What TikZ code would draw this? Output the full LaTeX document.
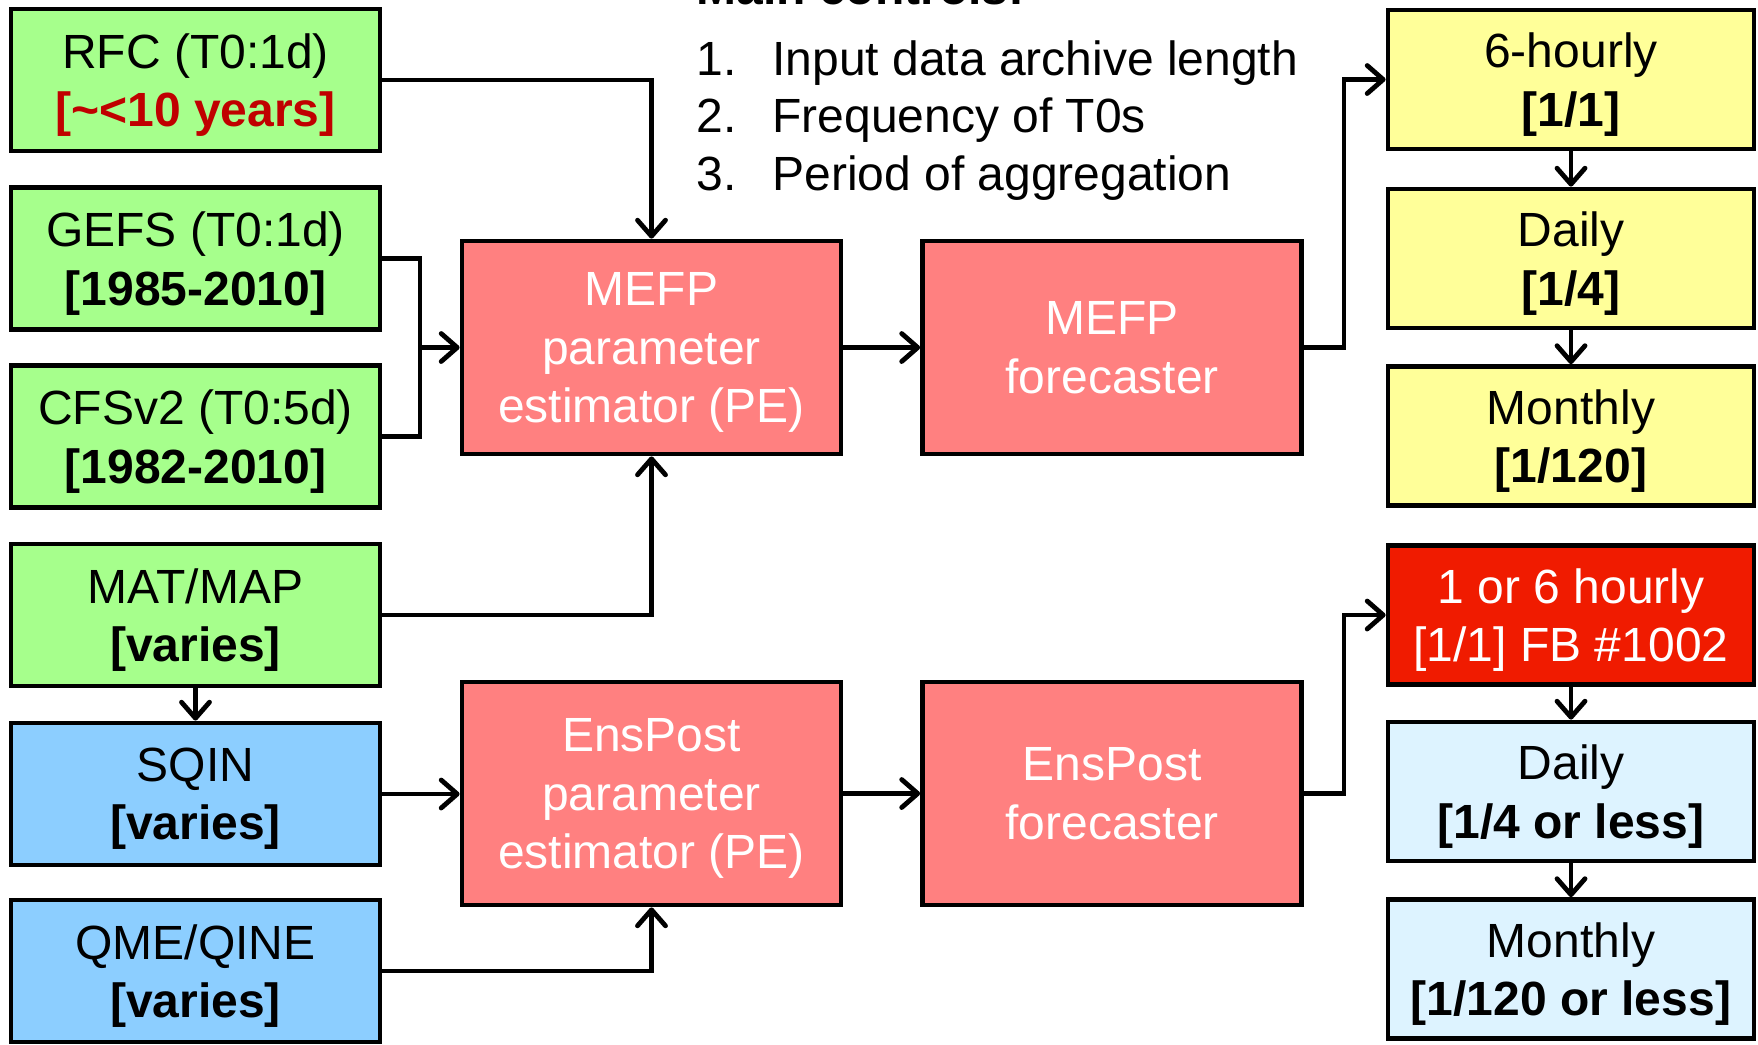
\documentclass[tikz,border=0pt]{standalone}
\usepackage{fontspec}
\setmainfont{Liberation Sans}
\usetikzlibrary{arrows.meta}
\definecolor{cgreen}{RGB}{166,255,140}
\definecolor{cpink}{RGB}{255,128,128}
\definecolor{cyellow}{RGB}{255,255,153}
\definecolor{cblue}{RGB}{140,206,255}
\definecolor{clblue}{RGB}{221,243,255}
\definecolor{cred}{RGB}{240,27,0}
\definecolor{cdred}{RGB}{192,0,0}
\tikzset{
  box/.style={draw=black, line width=2.4pt, inner sep=0pt, align=center, text depth=0pt,
    font=\fontsize{24}{29.2}\selectfont},
  lbox/.style={box, minimum width=184.5pt, minimum height=71pt},
  rbox/.style={box, minimum width=183pt, minimum height=69.5pt},
  pbox/.style={box, fill=cpink, text=white, minimum width=189.5pt},
  conn/.style={line width=2.4pt, line join=miter, line cap=rect},
  arr/.style={conn, -{Straight Barb[length=8pt,width=14pt,line cap=round,line join=round]}},
  listtxt/.style={anchor=base west, inner sep=0pt, font=\fontsize{24}{29}\selectfont},
}
\begin{document}
\begin{tikzpicture}[x=0.5pt, y=-0.5pt]
\useasboundingbox (0,0) rectangle (1758,1045);
% left column
\node[lbox, fill=cgreen] (rfc) at (195.5,80) {RFC (T0:1d)\\\textcolor{cdred}{\textbf{[\char`\~<10 years]}}};
\node[lbox, fill=cgreen] (gefs) at (195.5,258.5) {GEFS (T0:1d)\\\textbf{[1985-2010]}};
\node[lbox, fill=cgreen] (cfs) at (195.5,436.5) {CFSv2 (T0:5d)\\\textbf{[1982-2010]}};
\node[lbox, fill=cgreen] (mat) at (195.5,615) {MAT/MAP\\\textbf{[varies]}};
\node[lbox, fill=cblue] (sqin) at (195.5,794) {SQIN\\\textbf{[varies]}};
\node[lbox, fill=cblue] (qme) at (195.5,971) {QME/QINE\\\textbf{[varies]}};
% middle
\node[pbox, minimum height=106.5pt] (pe1) at (651.5,347.5) {MEFP\\parameter\\estimator (PE)};
\node[pbox, minimum height=106.5pt] (fc1) at (1112,347.5) {MEFP\\forecaster};
\node[pbox, minimum height=111.5pt] (pe2) at (651.5,793.5) {EnsPost\\parameter\\estimator (PE)};
\node[pbox, minimum height=111.5pt] (fc2) at (1112,793.5) {EnsPost\\forecaster};
% right column
\node[rbox, fill=cyellow] (h6) at (1571,79.5) {6-hourly\\\textbf{[1/1]}};
\node[rbox, fill=cyellow] (d1) at (1571,258.5) {Daily\\\textbf{[1/4]}};
\node[rbox, fill=cyellow] (m1) at (1571,436) {Monthly\\\textbf{[1/120]}};
\node[rbox, fill=cred, text=white] (h1) at (1571,615) {1 or 6 hourly\\{[}1/1] FB \#1002};
\node[rbox, fill=clblue] (d2) at (1571,791.5) {Daily\\\textbf{[1/4 or less]}};
\node[rbox, fill=clblue] (m2) at (1571,969) {Monthly\\\textbf{[1/120 or less]}};
% main controls text
\node[listtxt, font=\fontsize{24}{29}\selectfont\bfseries] (mc) at (696,4) {Main controls:};
\node[listtxt] (l1) at (696,75) {1.};
\node[listtxt] (t1) at (772,75) {Input data archive length};
\node[listtxt] (l2) at (696,132.5) {2.};
\node[listtxt] (t2) at (772,132.5) {Frequency of T0s};
\node[listtxt] (l3) at (696,190) {3.};
\node[listtxt] (t3) at (772,190) {Period of aggregation};
% junctions
\coordinate (jl) at (420,347.5);
\coordinate (jr1) at (1344,347.5);
\coordinate (jr2) at (1344,793.5);
% connectors
\draw[arr] (rfc.east) -| (pe1.north);
\draw[conn] (gefs.east) -| (jl) |- (cfs.east);
\draw[arr] (jl) -- (pe1.west);
\draw[arr] (mat.east) -| (pe1.south);
\draw[arr] (mat.south) -- (sqin.north);
\draw[arr] (sqin.east) -- (sqin.east -| pe2.west);
\draw[arr] (qme.east) -| (pe2.south);
\draw[arr] (pe1.east) -- (fc1.west);
\draw[arr] (pe2.east) -- (fc2.west);
\draw[conn] (fc1.east) -- (jr1);
\draw[arr] (jr1) |- (h6.west);
\draw[conn] (fc2.east) -- (jr2);
\draw[arr] (jr2) |- (h1.west);
\draw[arr] (h6.south) -- (d1.north);
\draw[arr] (d1.south) -- (m1.north);
\draw[arr] (h1.south) -- (d2.north);
\draw[arr] (d2.south) -- (m2.north);
\end{tikzpicture}
\end{document}
